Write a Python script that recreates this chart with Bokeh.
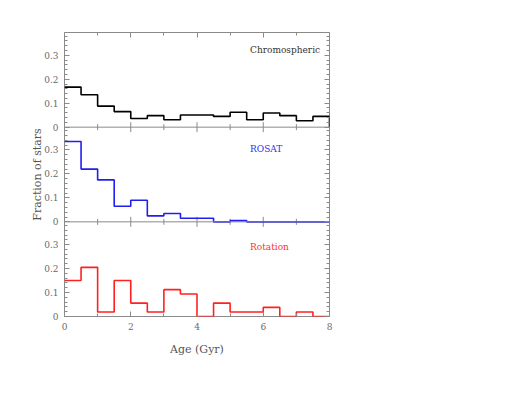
import numpy as np
from bokeh.plotting import figure
from bokeh.models import Range1d, LinearAxis, FixedTicker, Label, Span, CustomJSTickFormatter
from bokeh.embed import file_html
from bokeh.resources import INLINE

age_edges = [0.0, 0.5, 1.0, 1.5, 2.0, 2.5, 3.0, 3.5, 4.0, 4.5, 5.0, 5.5, 6.0, 6.5, 7.0, 7.5, 8.0]
chromo = [0.167, 0.135, 0.088, 0.065, 0.036, 0.048, 0.031, 0.051, 0.051, 0.045, 0.062, 0.031, 0.059, 0.048, 0.027, 0.045]
rosat = [0.335, 0.220, 0.175, 0.065, 0.090, 0.025, 0.035, 0.015, 0.015, 0.0, 0.005, 0.0, 0.0, 0.0, 0.0, 0.0]
rotation = [0.150, 0.205, 0.019, 0.150, 0.056, 0.019, 0.112, 0.094, 0.0, 0.056, 0.019, 0.019, 0.038, 0.0, 0.019, 0.0]
panel_names = ["Rotation", "ROSAT", "Chromospheric"]
x_ticks = [0, 2, 4, 6, 8]
x_minor = [1, 3, 5, 7]
y_ticks = [0, 0.1, 0.2, 0.3]
y_minor = [0.02, 0.04, 0.06, 0.08, 0.12, 0.14, 0.16, 0.18, 0.22, 0.24, 0.26, 0.28, 0.32, 0.34, 0.36, 0.38]

H = 0.395  # y extent of one panel
FONT = "DejaVu Serif"
GRAY = "#8a8a8a"
LABELGRAY = "#6a6a6a"

p = figure(width=64 + 265 + 30, height=32 + 284 + 52,
           x_range=Range1d(0, 8), y_range=Range1d(0, 3 * H),
           output_backend="svg", toolbar_location=None,
           min_border_left=64, min_border_right=30,
           min_border_top=32, min_border_bottom=52,
           x_axis_location=None, y_axis_location=None)
p.extra_y_ranges = {"rosat": Range1d(-H, 2 * H), "chromo": Range1d(-2 * H, H)}
p.grid.visible = False
p.outline_line_color = GRAY
p.outline_line_width = 1

all_major = [k * H + t for k in range(3) for t in y_ticks]
all_minor = [k * H + t for k in range(3) for t in y_minor]

fmt = CustomJSTickFormatter(args=dict(H=H), code="""
const k = Math.floor((tick + 1e-6) / H);
const t = tick - k * H;
return t < 0.005 ? "0" : t.toFixed(1);
""")
blank = CustomJSTickFormatter(code="return '';")


def style_axis(ax, major, minor, labels):
    ax.ticker = FixedTicker(ticks=major, minor_ticks=minor)
    ax.axis_line_color = None
    ax.major_tick_line_color = GRAY
    ax.minor_tick_line_color = GRAY
    ax.major_tick_in = 5
    ax.major_tick_out = 0
    ax.minor_tick_in = 3
    ax.minor_tick_out = 0
    ax.major_label_text_font = FONT
    ax.major_label_text_color = LABELGRAY
    ax.major_label_text_font_size = "9px"
    ax.axis_label_text_font = FONT
    ax.axis_label_text_font_style = "normal"
    ax.axis_label_text_color = "#555555"
    ax.axis_label_text_font_size = "11px"
    if not labels:
        ax.formatter = blank
        ax.major_label_standoff = 0


left = LinearAxis()
style_axis(left, all_major, all_minor, True)
left.formatter = fmt
left.major_label_standoff = 6
left.axis_label = "Fraction of stars"
left.axis_label_standoff = -3
p.add_layout(left, "left")

right = LinearAxis()
style_axis(right, all_major, all_minor, False)
p.add_layout(right, "right")

below = LinearAxis()
style_axis(below, x_ticks, x_minor, True)
below.major_label_standoff = 6
below.axis_label = "Age (Gyr)"
below.axis_label_standoff = 10
p.add_layout(below, "below")

above = LinearAxis()
style_axis(above, x_ticks, x_minor, False)
p.add_layout(above, "above")

# panel separators and their ticks
for k in (1, 2):
    p.add_layout(Span(location=k * H, dimension="width", line_color=GRAY, line_width=1))
    p.scatter(x_ticks, [k * H] * len(x_ticks), marker="dash", angle=np.pi / 2,
              size=10, line_color=GRAY, line_width=1)
    p.scatter(x_minor, [k * H] * len(x_minor), marker="dash", angle=np.pi / 2,
              size=6, line_color=GRAY, line_width=1)

series = [(rotation, "#ff2020", "default", "#ff3030", 0.288),
          (rosat, "#2020ee", "rosat", "#3030ee", 0.304),
          (chromo, "black", "chromo", "#333333", 0.322)]
for (vals, color, rname, tcolor, ty), name in zip(series, panel_names):
    ys = list(vals) + [0.0]
    p.step(list(age_edges), ys, mode="after", line_color=color, line_width=1.6,
           y_range_name=rname)
    p.add_layout(Label(x=5.6, y=ty, text=name, text_font=FONT, text_font_size="9px",
                       text_color=tcolor, text_align="left", text_baseline="middle",
                       y_range_name=rname))

open("out.html", "w").write(file_html(p, INLINE))
